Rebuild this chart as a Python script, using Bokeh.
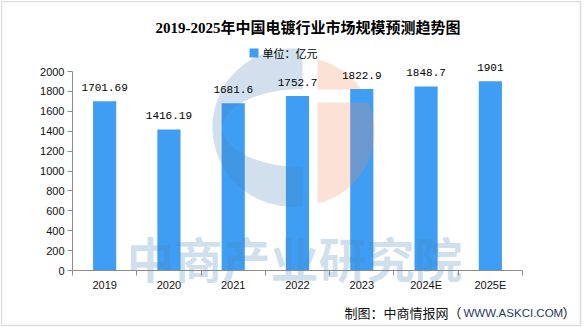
import numpy as np
from bokeh.plotting import figure
from bokeh.models import (ColumnDataSource, FixedTicker, LabelSet, Label, PolyAnnotation,
                          LinearAxis, Range1d)
from bokeh.embed import file_html
from bokeh.resources import INLINE
from bokeh.core.properties import value

# ---- data ----
categories = ["2019", "2020", "2021", "2022", "2023", "2024E", "2025E"]
market_size = [1701.69, 1416.19, 1681.6, 1752.7, 1822.9, 1848.7, 1901]
value_labels = ["1701.69", "1416.19", "1681.6", "1752.7", "1822.9", "1848.7", "1901"]
y_ticks = [0, 200, 400, 600, 800, 1000, 1200, 1400, 1600, 1800, 2000]

title_text = "2019-2025年中国电镀行业市场规模预测趋势图"
legend_text = "单位：亿元"
footer_cn = "制图：中商情报网（"
footer_url = "WWW.ASKCI.COM"
footer_end = "）"
watermark = "中商产业研究院"

BAR = "#3F9EF4"
W, H = 586, 327
# pixel box of the plotting area inside the canvas
FL, FR, FT, FB = 72, 522, 71, 270
N = len(categories)
YMAX = 2000


def dx(px):
    return (np.asarray(px, dtype=float) - FL) / (FR - FL) * N


def dy(py):
    return (FB - np.asarray(py, dtype=float)) / (FB - FT) * YMAX


p = figure(width=W, height=H,
           x_range=Range1d(float(dx(0)), float(dx(W))),
           y_range=Range1d(float(dy(H)), float(dy(0))),
           output_backend="svg", toolbar_location=None,
           x_axis_location=None, y_axis_location=None,
           min_border=0, min_border_left=0, min_border_right=0,
           min_border_top=0, min_border_bottom=0)
p.grid.visible = False
p.outline_line_color = None
p.background_fill_color = "white"
p.border_fill_color = "white"

centers = [i + 0.5 for i in range(N)]

# x axis: labels at centres, ticks at category boundaries
xaxis = LinearAxis(fixed_location=0, bounds=(0, N))
xaxis.ticker = FixedTicker(ticks=centers, minor_ticks=list(range(N + 1)))
xaxis.major_label_overrides = {float(c): cat for c, cat in zip(centers, categories)}
xaxis.major_tick_in = 0
xaxis.major_tick_out = 0
xaxis.minor_tick_in = 0
xaxis.minor_tick_out = 5
xaxis.axis_line_color = "#8c8c8c"
xaxis.minor_tick_line_color = "#8c8c8c"
xaxis.major_label_standoff = 3
xaxis.major_label_text_font = "Liberation Sans"
xaxis.major_label_text_font_size = "11px"
xaxis.major_label_text_color = "#111111"
p.add_layout(xaxis, "below")

yaxis = LinearAxis(fixed_location=0, bounds=(0, YMAX))
yaxis.ticker = FixedTicker(ticks=y_ticks)
yaxis.minor_tick_line_color = None
yaxis.major_tick_in = 0
yaxis.major_tick_out = 5
yaxis.axis_line_color = "#8c8c8c"
yaxis.major_tick_line_color = "#8c8c8c"
yaxis.major_label_standoff = 3
yaxis.major_label_text_font = "Liberation Sans"
yaxis.major_label_text_font_size = "11px"
yaxis.major_label_text_color = "#111111"
p.add_layout(yaxis, "left")

src = ColumnDataSource(dict(x=centers, top=market_size, label=value_labels))
p.vbar(x="x", top="top", width=0.36, source=src, fill_color=BAR, line_color=None)

# ---- watermark logo (decorative) ----
BLUE_WM = (70, 130, 180)
SALMON_WM = (239, 135, 91)

cx, cy, r = 291.0, 127.0, 79.0
phi0 = np.degrees(np.arccos((302 - cx) / r))
phi = np.radians(np.linspace(phi0, 360 - phi0, 80))
outer_x = cx + r * np.cos(phi)
outer_y = cy - r * np.sin(phi)
psi = np.radians(np.linspace(270, 90, 60))
ex, ey, ea, eb = 302.0, 127.5, 80.0, 39.0
inner_x = ex + ea * np.cos(psi)
inner_y = ey - eb * np.sin(psi)
blue_x = np.concatenate([outer_x, inner_x])
blue_y = np.concatenate([outer_y, inner_y])
p.add_layout(PolyAnnotation(xs=list(dx(blue_x)), ys=list(dy(blue_y)),
                            fill_color=BLUE_WM, fill_alpha=0.25, line_color=None))

scx, scy, sr = 300.0, 131.0, 74.0


def salmon_piece(y0, y1):
    ys = np.linspace(y0, y1, 40)
    xs = scx + np.sqrt(np.clip(sr ** 2 - (ys - scy) ** 2, 0, None))
    xs = np.maximum(xs, 317)
    px = np.concatenate([[317], xs, [317]])
    py = np.concatenate([[y0], ys, [y1]])
    return px, py


top_y = scy - np.sqrt(sr ** 2 - (317 - scx) ** 2)
bot_y = scy + np.sqrt(sr ** 2 - (317 - scx) ** 2)
for (a, b) in [(top_y, 89.0), (102.0, bot_y)]:
    px, py = salmon_piece(a, b)
    p.add_layout(PolyAnnotation(xs=list(dx(px)), ys=list(dy(py)),
                                fill_color=SALMON_WM, fill_alpha=0.25, line_color=None))

p.add_layout(Label(x=float(dx(294)), y=float(dy(256)), text=watermark,
                   text_align="center", text_baseline="middle",
                   text_font="Noto Sans CJK SC", text_font_style="bold",
                   text_font_size="48px", text_color=BLUE_WM, text_alpha=0.25))

# ---- value labels ----
p.add_layout(LabelSet(x="x", y="top", text="label", source=src,
                      text_align="center", text_baseline="middle", y_offset=14,
                      text_font=value("Liberation Mono"), text_font_size="11px",
                      text_color="#000000"))

# ---- title, legend, footer ----
p.add_layout(Label(x=float(dx(307.5)), y=float(dy(27.5)), text=title_text,
                   text_align="center", text_baseline="middle",
                   text_font="Liberation Serif, Noto Sans CJK SC", text_font_style="bold",
                   text_font_size="15px", text_color="#000000"))

sq_x = [249, 258, 258, 249]
sq_y = [48, 48, 57, 57]
p.add_layout(PolyAnnotation(xs=list(dx(sq_x)), ys=list(dy(sq_y)),
                            fill_color=BAR, fill_alpha=1.0, line_color=None))
p.add_layout(Label(x=float(dx(262)), y=float(dy(52.5)), text=legend_text,
                   text_align="left", text_baseline="middle",
                   text_font="Noto Sans CJK SC", text_font_size="11px",
                   text_color="#000000"))

p.add_layout(Label(x=float(dx(344)), y=float(dy(312)), text=footer_cn,
                   text_align="left", text_baseline="middle",
                   text_font="Noto Sans CJK SC", text_font_size="13px",
                   text_color="#111111"))
p.add_layout(Label(x=float(dx(463)), y=float(dy(312.5)), text=footer_url,
                   text_align="left", text_baseline="middle",
                   text_font="Liberation Sans", text_font_size="11.5px",
                   text_color="#1F3864"))
p.add_layout(Label(x=float(dx(562)), y=float(dy(312)), text=footer_end,
                   text_align="left", text_baseline="middle",
                   text_font="Noto Sans CJK SC", text_font_size="13px",
                   text_color="#111111"))

# outer border
bx = [1, 580, 580, 1]
by = [1, 1, 325, 325]
p.add_layout(PolyAnnotation(xs=list(dx(bx)), ys=list(dy(by)),
                            fill_color=None, line_color="#8c8c8c", line_width=1.5))

open("out.html", "w").write(file_html(p, INLINE))
